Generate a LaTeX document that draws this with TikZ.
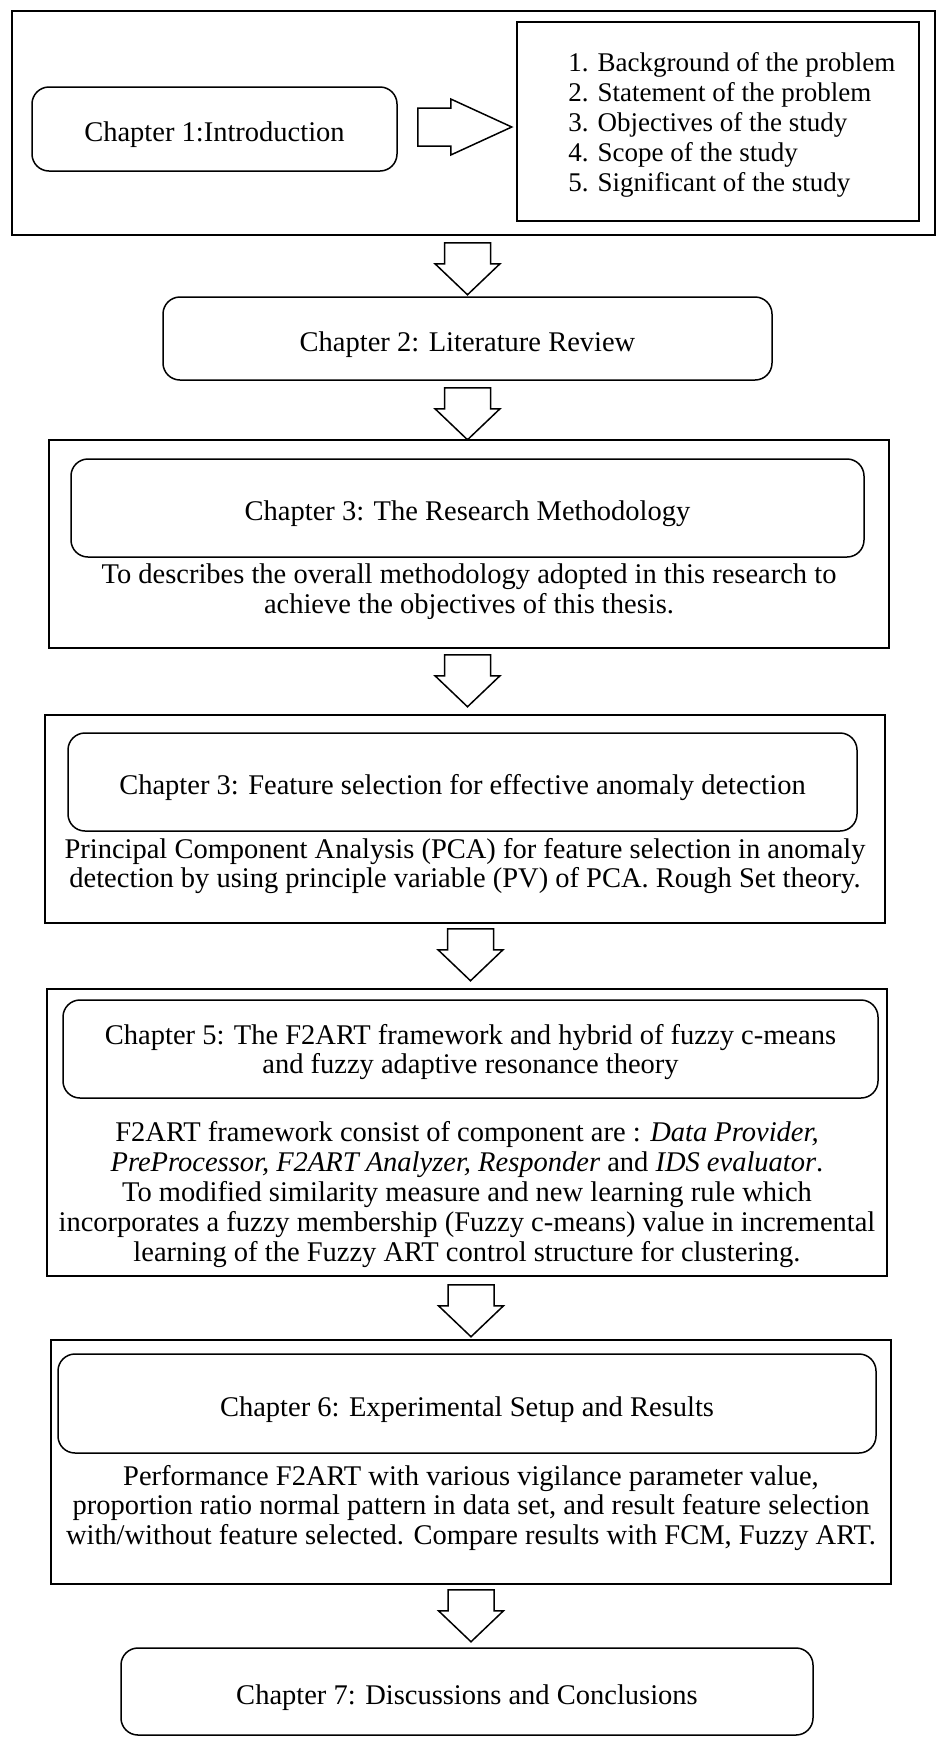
\documentclass[tikz,border=0pt]{standalone}
\usepackage{fontspec}
\setmainfont{Liberation Serif}
\usepackage{tikz}
\usetikzlibrary{calc,positioning}
\newcommand{\chapPad}{\rule{0pt}{31.5pt}}
\tikzset{
  bodyFont/.style  = {font=\fontsize{28.5}{29.8}\selectfont},
  frameBox/.style  = {rectangle, draw, line width=1.5pt, inner sep=0pt},
  chapBox/.style   = {rectangle, rounded corners=17pt, draw, line width=1.5pt,
                      align=center, inner sep=0pt, bodyFont,
                      execute at begin node=\chapPad},
  listBox/.style   = {rectangle, draw, line width=1.5pt, inner sep=0pt},
  listText/.style  = {align=left, inner sep=0pt, font=\fontsize{27}{30}\selectfont},
  descText/.style  = {align=center, inner sep=0pt, bodyFont},
  hollowArrow/.style = {draw, line width=1.5pt, fill=white, line join=miter},
  downArrow/.pic   = {\draw[hollowArrow] (-23,0) -- (23,0) -- (23,21) -- (32.5,21)
                      -- (0,52) -- (-32.5,21) -- (-23,21) -- cycle;},
  rightArrow/.pic  = {\draw[hollowArrow] (0,-19) -- (33,-19) -- (33,-28) -- (94,0)
                      -- (33,28) -- (33,19) -- (0,19) -- cycle;},
}
\begin{document}
\begin{tikzpicture}[x=1pt, y=-1pt]
  \useasboundingbox (0,0) rectangle (937,1738);
  % chapter 1 with its topics
  \node[frameBox, minimum width=923pt, minimum height=224pt] (frameIntro) at (473.5,123) {};
  \node[chapBox, minimum width=365pt, minimum height=84pt] (chIntro) at (214.5,129) {Chapter 1:Introduction};
  \node[listBox, minimum width=402pt, minimum height=199pt] (topics) at (718,121.5) {};
  \node[listText, anchor=west] (topicsText) at ($(topics.west)+(52,3)$)
      {1. Background of the problem\\2. Statement of the problem\\3. Objectives of the study\\4. Scope of the study\\5. Significant of the study};
  \pic at ($(chIntro.east)+(20,-2)$) {rightArrow};
  % chapter 2
  \node[chapBox, minimum width=609pt, minimum height=83pt] (chReview) at (467.5,338.5) {Chapter 2: Literature Review};
  % chapter 3
  \node[frameBox, minimum width=840pt, minimum height=208pt] (frameMethod) at (469,544) {};
  \node[chapBox, minimum width=793pt, minimum height=98pt] (chMethod) at (467.5,508) {Chapter 3: The Research Methodology};
  \node[descText] (descMethod) at (469,592)
      {To describes the overall methodology adopted in this research to\\achieve the objectives of this thesis.};
  % feature selection
  \node[frameBox, minimum width=840pt, minimum height=208pt] (frameFeature) at (465,819) {};
  \node[chapBox, minimum width=789pt, minimum height=98pt] (chFeature) at (462.5,782) {Chapter 3: Feature selection for effective anomaly detection};
  \node[descText] (descFeature) at (465,866)
      {Principal Component Analysis (PCA) for feature selection in anomaly\\detection by using principle variable (PV) of PCA. Rough Set theory.};
  % chapter 5
  \node[frameBox, minimum width=840pt, minimum height=287pt] (frameHybrid) at (467,1132.5) {};
  \node[chapBox, text depth=0pt, minimum width=815pt, minimum height=98pt] (chHybrid) at (470.5,1049)
      {Chapter 5: The F2ART framework and hybrid of fuzzy c-means\\and fuzzy adaptive resonance theory};
  \node[descText] (descHybrid) at (467,1194.5)
      {F2ART framework consist of component are : \textit{Data Provider,}\\
       \textit{PreProcessor, F2ART Analyzer, Responder} and \textit{IDS evaluator}.\\
       To modified similarity measure and new learning rule which\\
       incorporates a fuzzy membership (Fuzzy c-means) value in incremental\\
       learning of the Fuzzy ART control structure for clustering.};
  % chapter 6
  \node[frameBox, minimum width=840pt, minimum height=244pt] (frameResults) at (471,1462) {};
  \node[chapBox, minimum width=818pt, minimum height=99pt] (chResults) at (467,1403.5) {Chapter 6: Experimental Setup and Results};
  \node[descText] (descResults) at (471,1508)
      {Performance F2ART with various vigilance parameter value,\\
       proportion ratio normal pattern in data set, and result feature selection\\
       with/without feature selected. Compare results with FCM, Fuzzy ART.};
  % chapter 7
  \node[chapBox, minimum width=692pt, minimum height=87pt] (chEnd) at (467,1691.5) {Chapter 7: Discussions and Conclusions};
  % block arrows between chapters
  \pic at ($(frameIntro.south -| chReview.north)+(0,7)$) {downArrow};
  \pic at ($(chReview.south -| chMethod.north)+(0,7)$) {downArrow};
  \pic at ($(frameMethod.south -| chMethod.north)+(0,6)$) {downArrow};
  \pic at ($(frameFeature.south -| chHybrid.north)+(0,5)$) {downArrow};
  \pic at ($(frameHybrid.south -| frameResults.north)+(0,8)$) {downArrow};
  \pic at ($(frameResults.south -| frameResults.north)+(0,5)$) {downArrow};
\end{tikzpicture}
\end{document}
